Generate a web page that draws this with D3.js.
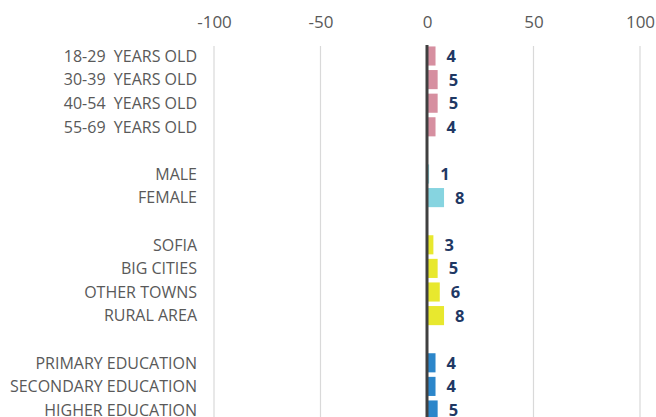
<!DOCTYPE html>
<html>
<head>
<meta charset="utf-8">
<script src="https://cdn.jsdelivr.net/npm/d3@7/dist/d3.min.js"></script>
<style>
  html, body { margin: 0; padding: 0; background: #fff; }
  svg { display: block; }
  text { font-family: "Open Sans", "Noto Sans", sans-serif; }
</style>
</head>
<body>
<svg id="chart" width="656" height="417"></svg>
<script>
// Row labels, in order; empty strings are spacer rows between groups
const categories = [
  "18-29  YEARS OLD", "30-39  YEARS OLD", "40-54  YEARS OLD", "55-69  YEARS OLD", "",
  "MALE", "FEMALE", "",
  "SOFIA", "BIG CITIES", "OTHER TOWNS", "RURAL AREA", "",
  "PRIMARY EDUCATION", "SECONDARY EDUCATION", "HIGHER EDUCATION"
];
const values = [4, 5, 5, 4, null, 1, 8, null, 3, 5, 6, 8, null, 4, 4, 5];
const groups = ["age", "age", "age", "age", null, "sex", "sex", null,
  "place", "place", "place", "place", null, "edu", "edu", "edu"];
const groupColors = { age: "#d68fa0", sex: "#86d4e0", place: "#e8e82e", edu: "#2c86ca" };
const tickValues = [-100, -50, 0, 50, 100];

const svg = d3.select("#chart");
const W = 656, H = 417;

const rows = categories.map((c, i) => ({ id: i, label: c, value: values[i], group: groups[i] }));

const x = d3.scaleLinear().domain([-100, 100]).range([214, 640]);
const y = d3.scaleBand()
  .domain(rows.map(d => d.id))
  .range([44.2, 44.2 + 16 * 23.6])
  .paddingInner(0.19)
  .paddingOuter(0.095);

const plotTop = 46;

// Vertical gridlines
svg.append("g")
  .selectAll("line")
  .data(tickValues.filter(v => v !== 0))
  .join("line")
  .attr("x1", d => x(d)).attr("x2", d => x(d))
  .attr("y1", plotTop).attr("y2", H)
  .attr("stroke", "#d9d9d9").attr("stroke-width", 1.2);

// Top axis tick labels (plain hyphen for negatives)
const axis = d3.axisTop(x)
  .tickValues(tickValues)
  .tickFormat(d => String(d))
  .tickSize(0)
  .tickPadding(0);
const ax = svg.append("g").attr("transform", "translate(0,28)").call(axis);
ax.select(".domain").remove();
ax.selectAll("text")
  .attr("fill", "#595959")
  .style("font-size", "17px")
  .style("font-family", "'Open Sans', sans-serif");

// Bars
const data = rows.filter(d => d.value !== null);
svg.append("g")
  .selectAll("rect")
  .data(data)
  .join("rect")
  .attr("x", x(0))
  .attr("y", d => y(d.id))
  .attr("width", d => x(d.value) - x(0))
  .attr("height", y.bandwidth())
  .attr("fill", d => groupColors[d.group]);

// Zero line
svg.append("line")
  .attr("x1", x(0)).attr("x2", x(0))
  .attr("y1", plotTop - 1).attr("y2", H)
  .attr("stroke", "#404040").attr("stroke-width", 3);

// Category labels
svg.append("g")
  .selectAll("text")
  .data(rows.filter(d => d.label))
  .join("text")
  .attr("x", 197)
  .attr("y", d => y(d.id) + y.bandwidth() / 2)
  .attr("dy", "0.36em")
  .attr("text-anchor", "end")
  .attr("fill", "#595959")
  .style("font-size", "16px")
  .style("white-space", "pre")
  .text(d => d.label);

// Value labels
svg.append("g")
  .selectAll("text")
  .data(data)
  .join("text")
  .attr("x", d => x(d.value) + 11)
  .attr("y", d => y(d.id) + y.bandwidth() / 2)
  .attr("dy", "0.36em")
  .attr("fill", "#1f3864")
  .style("font-size", "16.5px")
  .style("font-weight", "bold")
  .text(d => d.value);
</script>
</body>
</html>
